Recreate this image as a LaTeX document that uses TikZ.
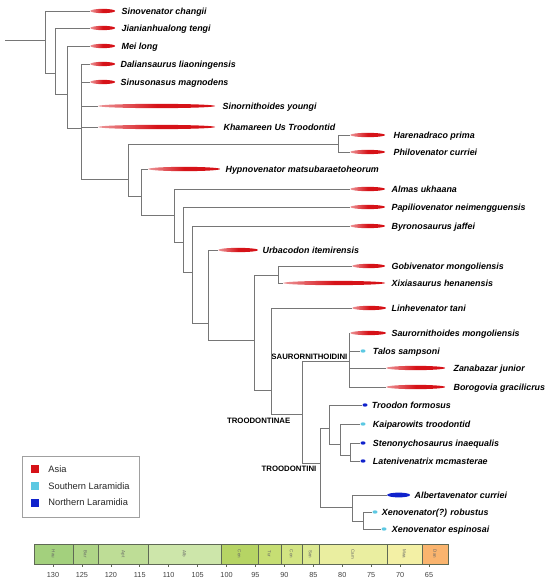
\documentclass[tikz,border=0pt]{standalone}
\usepackage{fontspec}
\setmainfont{Liberation Sans}
\usetikzlibrary{positioning,shapes.geometric}
\definecolor{asia}{RGB}{214,18,24}
\definecolor{southLar}{RGB}{92,200,226}
\definecolor{northLar}{RGB}{16,34,204}
\definecolor{branchGray}{RGB}{118,118,118}
\definecolor{legendGray}{RGB}{160,160,160}
\definecolor{stageLine}{RGB}{95,105,85}
\definecolor{hauC}{RGB}{163,208,125}
\definecolor{barC}{RGB}{175,213,135}
\definecolor{aptC}{RGB}{190,221,150}
\definecolor{albC}{RGB}{205,230,170}
\definecolor{cenC}{RGB}{182,212,100}
\definecolor{turC}{RGB}{198,222,115}
\definecolor{conC}{RGB}{210,228,130}
\definecolor{sanC}{RGB}{220,233,145}
\definecolor{camC}{RGB}{234,238,160}
\definecolor{maaC}{RGB}{243,240,165}
\definecolor{danC}{RGB}{250,180,110}
\begin{document}
\begin{tikzpicture}[x=1pt,y=-1pt]
\tikzstyle{branch}=[draw=branchGray, line width=0.9pt]
\tikzstyle{rangeBar}=[ellipse, inner sep=0pt, minimum height=4.3pt, anchor=west, left color=asia!45, right color=asia, middle color=asia]
\tikzstyle{fossilDot}=[ellipse, inner sep=0pt, minimum width=5pt, minimum height=3.4pt]
\tikzstyle{taxon}=[inner sep=1pt, text height=6.4pt, text depth=0pt, font=\fontsize{8.9}{10}\selectfont\bfseries\itshape]
\tikzstyle{clade}=[inner sep=0.5pt, font=\fontsize{7.8}{9}\selectfont\bfseries]
\tikzstyle{legendKey}=[rectangle, inner sep=0pt, minimum size=8pt]
\tikzstyle{legendText}=[inner sep=1pt, text=black!85, font=\fontsize{9.3}{11}\selectfont]
\useasboundingbox (0,0) rectangle (550,583);

%internal nodes
\coordinate (root) at (5,40);
\coordinate (nA)  at (45,40);
\coordinate (nB)  at (55,73);
\coordinate (nC)  at (67,94);
\coordinate (nD)  at (81,128);
\coordinate (nE)  at (128,179);
\coordinate (nF)  at (338,144);
\coordinate (nG)  at (141,196);
\coordinate (nH)  at (174,215);
\coordinate (nI)  at (183,242);
\coordinate (nJ)  at (192,272);
\coordinate (nK)  at (208,323);
\coordinate (nL)  at (254,340);
\coordinate (nM)  at (278,275);
\coordinate (nN)  at (271,390);
\coordinate (nO)  at (302,414);
\coordinate (nS1) at (349,361);
\coordinate (nP)  at (320,463);
\coordinate (nQ)  at (329,428);
\coordinate (nR)  at (340,444);
\coordinate (nS)  at (350,455);
\coordinate (nT)  at (352,507);
\coordinate (nU)  at (363,521);

%range bars (Asia)
\node[rangeBar, minimum width=25pt]  (sinovenatorBar)     at (90,11)   {};
\node[rangeBar, minimum width=25pt]  (jianianhualongBar)  at (90,28)   {};
\node[rangeBar, minimum width=25pt]  (meiBar)             at (90,46)   {};
\node[rangeBar, minimum width=25pt]  (daliansaurusBar)    at (90,64)   {};
\node[rangeBar, minimum width=25pt]  (sinusonasusBar)     at (90,82)   {};
\node[rangeBar, minimum width=117pt] (sinornithoidesBar)  at (98,106)  {};
\node[rangeBar, minimum width=117pt] (khamareenBar)       at (98,127)  {};
\node[rangeBar, minimum width=35pt]  (harenadracoBar)     at (350,135) {};
\node[rangeBar, minimum width=35pt]  (philovenatorBar)    at (350,152) {};
\node[rangeBar, minimum width=72pt]  (hypnovenatorBar)    at (148,169) {};
\node[rangeBar, minimum width=35pt]  (almasBar)           at (350,189) {};
\node[rangeBar, minimum width=35pt]  (papiliovenatorBar)  at (350,207) {};
\node[rangeBar, minimum width=35pt]  (byronosaurusBar)    at (350,226) {};
\node[rangeBar, minimum width=40pt]  (urbacodonBar)       at (218,250) {};
\node[rangeBar, minimum width=33pt]  (gobivenatorBar)     at (352,266) {};
\node[rangeBar, minimum width=102pt] (xixiasaurusBar)     at (283,283) {};
\node[rangeBar, minimum width=34pt]  (linhevenatorBar)    at (352,308) {};
\node[rangeBar, minimum width=36pt]  (saurornithoidesBar) at (350,333) {};
\node[rangeBar, minimum width=59pt]  (zanabazarBar)       at (386,368) {};
\node[rangeBar, minimum width=59pt]  (borogoviaBar)       at (386,387) {};

%Laramidia records
\node[fossilDot, fill=southLar] (talosBar)            at (363,351) {};
\node[fossilDot, fill=northLar] (troodonBar)          at (365,405) {};
\node[fossilDot, fill=southLar] (kaiparowitsBar)      at (363,424) {};
\node[fossilDot, fill=northLar] (stenonychosaurusBar) at (363,443) {};
\node[fossilDot, fill=northLar] (latenivenatrixBar)   at (363,461) {};
\node[rangeBar, minimum width=23pt, minimum height=4.8pt, left color=northLar, right color=northLar, middle color=northLar] (albertavenatorBar) at (387,495) {};
\node[fossilDot, fill=southLar] (xenoRobustusBar)     at (375,512) {};
\node[fossilDot, fill=southLar] (xenoEspinosaiBar)    at (384,529) {};

%taxon names
\node[taxon, right=5pt of sinovenatorBar]     (sinovenator)     {Sinovenator changii};
\node[taxon, right=5pt of jianianhualongBar]  (jianianhualong)  {Jianianhualong tengi};
\node[taxon, right=5pt of meiBar]             (mei)             {Mei long};
\node[taxon, right=4pt of daliansaurusBar]    (daliansaurus)    {Daliansaurus liaoningensis};
\node[taxon, right=4pt of sinusonasusBar]     (sinusonasus)     {Sinusonasus magnodens};
\node[taxon, right=6pt of sinornithoidesBar]  (sinornithoides)  {Sinornithoides youngi};
\node[taxon, right=7pt of khamareenBar]       (khamareen)       {Khamareen Us Troodontid};
\node[taxon, right=7pt of harenadracoBar]     (harenadraco)     {Harenadraco prima};
\node[taxon, right=7pt of philovenatorBar]    (philovenator)    {Philovenator curriei};
\node[taxon, right=4pt of hypnovenatorBar]    (hypnovenator)    {Hypnovenator matsubaraetoheorum};
\node[taxon, right=5pt of almasBar]           (almas)           {Almas ukhaana};
\node[taxon, right=5pt of papiliovenatorBar]  (papiliovenator)  {Papiliovenator neimengguensis};
\node[taxon, right=5pt of byronosaurusBar]    (byronosaurus)    {Byronosaurus jaffei};
\node[taxon, right=3pt of urbacodonBar]       (urbacodon)       {Urbacodon itemirensis};
\node[taxon, right=5pt of gobivenatorBar]     (gobivenator)     {Gobivenator mongoliensis};
\node[taxon, right=5pt of xixiasaurusBar]     (xixiasaurus)     {Xixiasaurus henanensis};
\node[taxon, right=4pt of linhevenatorBar]    (linhevenator)    {Linhevenator tani};
\node[taxon, right=4pt of saurornithoidesBar] (saurornithoides) {Saurornithoides mongoliensis};
\node[taxon, right=6pt of talosBar]           (talos)           {Talos sampsoni};
\node[taxon, right=7pt of zanabazarBar]       (zanabazar)       {Zanabazar junior};
\node[taxon, right=7pt of borogoviaBar]       (borogovia)       {Borogovia gracilicrus};
\node[taxon, right=3pt of troodonBar]         (troodon)         {Troodon formosus};
\node[taxon, right=6pt of kaiparowitsBar]     (kaiparowits)     {Kaiparowits troodontid};
\node[taxon, right=6pt of stenonychosaurusBar](stenonychosaurus){Stenonychosaurus inaequalis};
\node[taxon, right=6pt of latenivenatrixBar]  (latenivenatrix)  {Latenivenatrix mcmasterae};
\node[taxon, right=3pt of albertavenatorBar]  (albertavenator)  {Albertavenator curriei};
\node[taxon, right=3pt of xenoRobustusBar]    (xenoRobustus)    {Xenovenator(?) robustus};
\node[taxon, right=4pt of xenoEspinosaiBar]   (xenoEspinosai)   {Xenovenator espinosai};

%clade names
\node[clade, above left=1pt and 1pt of nS1]  (saurornithoidini) {SAURORNITHOIDINI};
\node[clade, below left=3pt and 11pt of nO]  (troodontinae)     {TROODONTINAE};
\node[clade, below left=2pt and 3pt of nP]   (troodontini)      {TROODONTINI};

% connections
\draw[branch] (root) -- (nA);
\draw[branch] (nA) |- (sinovenatorBar.west);
\draw[branch] (nA) |- (nB);
\draw[branch] (nB) |- (jianianhualongBar.west);
\draw[branch] (nB) |- (nC);
\draw[branch] (nC) |- (meiBar.west);
\draw[branch] (nC) |- (nD);
\draw[branch] (nD) |- (daliansaurusBar.west);
\draw[branch] (nD) |- (sinusonasusBar.west);
\draw[branch] (nD) |- (sinornithoidesBar.west);
\draw[branch] (nD) |- (khamareenBar.west);
\draw[branch] (nD) |- (nE);
\draw[branch] (nE) |- (nF);
\draw[branch] (nF) |- (harenadracoBar.west);
\draw[branch] (nF) |- (philovenatorBar.west);
\draw[branch] (nE) |- (nG);
\draw[branch] (nG) |- (hypnovenatorBar.west);
\draw[branch] (nG) |- (nH);
\draw[branch] (nH) |- (almasBar.west);
\draw[branch] (nH) |- (nI);
\draw[branch] (nI) |- (papiliovenatorBar.west);
\draw[branch] (nI) |- (nJ);
\draw[branch] (nJ) |- (byronosaurusBar.west);
\draw[branch] (nJ) |- (nK);
\draw[branch] (nK) |- (urbacodonBar.west);
\draw[branch] (nK) |- (nL);
\draw[branch] (nL) |- (nM);
\draw[branch] (nM) |- (gobivenatorBar.west);
\draw[branch] (nM) |- (xixiasaurusBar.west);
\draw[branch] (nL) |- (nN);
\draw[branch] (nN) |- (linhevenatorBar.west);
\draw[branch] (nN) |- (nO);
\draw[branch] (nO) |- (nS1);
\draw[branch] (nS1) |- (saurornithoidesBar.west);
\draw[branch] (nS1) |- (talosBar.west);
\draw[branch] (nS1) |- (zanabazarBar.west);
\draw[branch] (nS1) |- (borogoviaBar.west);
\draw[branch] (nO) |- (nP);
\draw[branch] (nP) |- (nQ);
\draw[branch] (nQ) |- (troodonBar.west);
\draw[branch] (nQ) |- (nR);
\draw[branch] (nR) |- (kaiparowitsBar.west);
\draw[branch] (nR) |- (nS);
\draw[branch] (nS) |- (stenonychosaurusBar.west);
\draw[branch] (nS) |- (latenivenatrixBar.west);
\draw[branch] (nP) |- (nT);
\draw[branch] (nT) |- (albertavenatorBar.west);
\draw[branch] (nT) |- (nU);
\draw[branch] (nU) |- (xenoRobustusBar.west);
\draw[branch] (nU) |- (xenoEspinosaiBar.west);

%legend
\node[draw=legendGray, line width=1pt, minimum width=117pt, minimum height=61pt, anchor=north west] (legend) at (22,456) {};
\node[legendKey, fill=asia]     (keyAsia)  at (35,469)   {};
\node[legendKey, fill=southLar] (keySouth) at (35,486)   {};
\node[legendKey, fill=northLar] (keyNorth) at (35,502.5) {};
\node[legendText, right=8pt of keyAsia]  (textAsia)  {Asia};
\node[legendText, right=8pt of keySouth] (textSouth) {Southern Laramidia};
\node[legendText, right=8pt of keyNorth] (textNorth) {Northern Laramidia};

%time scale
\foreach \xa/\xb/\col/\stage in {34/73/hauC/Hau, 73/98/barC/Bar, 98/148/aptC/Apt, 148/221/albC/Alb, 221/258/cenC/Cen, 258/281/turC/Tur, 281/302/conC/Con, 302/319/sanC/San, 319/387/camC/Cam, 387/422/maaC/Maa, 422/448/danC/Dan} {
  \filldraw[fill=\col, draw=stageLine, line width=0.8pt] (\xa,544) rectangle (\xb,564);
  \node[rotate=-90, inner sep=0pt, text=black!60, font=\fontsize{4.5}{5}\selectfont] (stage\stage) at ({(\xa+\xb)/2},554) {\stage};
}
\foreach \a in {130,125,...,65} {
  \pgfmathsetmacro{\tx}{53+(130-\a)*5.785}
  \draw[stageLine, line width=0.6pt] (\tx,564) -- (\tx,567);
  \node[inner sep=0pt, text=black!75, font=\fontsize{7.3}{8}\selectfont] (age\a) at (\tx,575) {\a};
}

\end{tikzpicture}
\end{document}
